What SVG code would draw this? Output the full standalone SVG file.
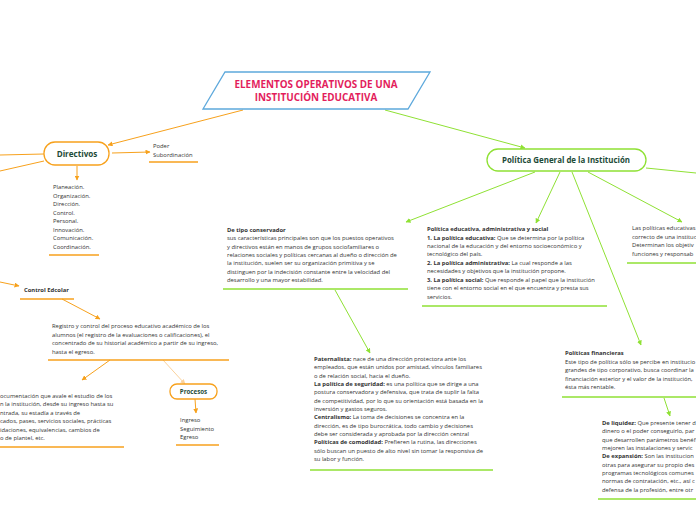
<svg xmlns="http://www.w3.org/2000/svg" width="696" height="520" viewBox="0 0 696 520">
<style>
.t{font-family:"Open Sans","Noto Sans",sans-serif;font-size:5.85px;fill:#333}
.b{font-weight:bold}
.node{fill:#fff;stroke-width:1.3}
.or{stroke:#f7a11c}
.gr{stroke:#8fe134}
.lbl{font-family:"Open Sans","Noto Sans",sans-serif;font-weight:bold;fill:#1d4b38;text-anchor:middle}
.co{fill:none;stroke-width:1}
.ul{fill:none;stroke-width:1.6}
</style>
<defs>
<marker id="ao" viewBox="0 0 10 10" refX="9" refY="5" markerWidth="5" markerHeight="5" orient="auto" markerUnits="userSpaceOnUse"><path d="M0,0L10,5L0,10z" fill="#f7a11c"/></marker>
<marker id="ag" viewBox="0 0 10 10" refX="9" refY="5" markerWidth="5" markerHeight="5" orient="auto" markerUnits="userSpaceOnUse"><path d="M0,0L10,5L0,10z" fill="#8fe134"/></marker>
<marker id="al" viewBox="0 0 10 10" refX="9" refY="5" markerWidth="5" markerHeight="5" orient="auto" markerUnits="userSpaceOnUse"><path d="M0,0L10,5L0,10z" fill="#fbd29c"/></marker>
</defs>
<rect width="696" height="520" fill="#fff"/>
<g id="connectors">
<line class="co or" x1="243" y1="110" x2="108" y2="145" marker-end="url(#ao)"/>
<line class="co gr" x1="385" y1="110" x2="525" y2="148" marker-end="url(#ag)"/>
<line class="co or" x1="44" y1="154" x2="0" y2="155"/>
<line class="co or" x1="44" y1="161" x2="0" y2="171"/>
<line class="co or" x1="112" y1="153" x2="150" y2="152" marker-end="url(#ao)"/>
<line class="co or" x1="77" y1="166" x2="77" y2="180" marker-end="url(#ao)"/>
<line class="co or" x1="0" y1="282" x2="19" y2="286" marker-end="url(#ao)"/>
<line class="co or" x1="62" y1="299" x2="100" y2="319" marker-end="url(#ao)"/>
<line class="co or" x1="110" y1="360" x2="82" y2="380" marker-end="url(#ao)"/>
<line class="co" stroke="#fbd29c" x1="163" y1="360" x2="185" y2="384" marker-end="url(#al)"/>
<line class="co or" x1="195" y1="399" x2="196" y2="413" marker-end="url(#ao)"/>
<line class="co gr" x1="646" y1="168" x2="696" y2="173"/>
<line class="co gr" x1="535" y1="172" x2="406" y2="222" marker-end="url(#ag)"/>
<line class="co gr" x1="560" y1="172" x2="536" y2="223" marker-end="url(#ag)"/>
<line class="co gr" x1="572" y1="172" x2="641" y2="345" marker-end="url(#ag)"/>
<line class="co gr" x1="588" y1="172" x2="682" y2="222" marker-end="url(#ag)"/>
<line class="co gr" x1="335" y1="290" x2="370" y2="353" marker-end="url(#ag)"/>
<line class="co gr" x1="664" y1="398" x2="670" y2="416" marker-end="url(#ag)"/>
</g>
<g id="title">
<polygon points="225,72 430,72 408,109 203,109" fill="#fff" stroke="#5ea9dc" stroke-width="1.3"/>
<text font-family="'Open Sans','Noto Sans',sans-serif" font-weight="bold" font-size="9.9" fill="#e31d5c" text-anchor="middle"><tspan x="316" y="87.5">ELEMENTOS OPERATIVOS DE UNA</tspan><tspan x="316" y="100.5">INSTITUCIÓN EDUCATIVA</tspan></text>
</g>
<g id="directivos">
<rect class="node or" x="44" y="142" width="65" height="23" rx="11"/>
<text class="lbl" x="77" y="157" font-size="8.1">Directivos</text>
</g>
<g id="poder">
<text class="t"><tspan x="153" y="148">Poder</tspan><tspan x="153" y="157">Subordinación</tspan></text>
<line class="ul or" x1="149" y1="162" x2="198" y2="162"/>
</g>
<g id="lista-directivos">
<text class="t"><tspan x="53" y="189">Planeación.</tspan><tspan x="53" y="197.5">Organización.</tspan><tspan x="53" y="206">Dirección.</tspan><tspan x="53" y="214.5">Control.</tspan><tspan x="53" y="223">Personal.</tspan><tspan x="53" y="231.5">Innovación.</tspan><tspan x="53" y="240">Comunicación.</tspan><tspan x="53" y="248.5">Coordinación.</tspan></text>
<line class="ul or" x1="49" y1="255" x2="99" y2="255"/>
</g>
<g id="control-escolar">
<text class="t b" x="24" y="292">Control Edcolar</text>
<line class="ul or" x1="20" y1="299" x2="74" y2="299"/>
</g>
<g id="registro">
<text class="t"><tspan x="52" y="328">Registro y control del proceso educativo académico de los</tspan><tspan x="52" y="336.5">alumnos (el registro de la evaluaciones o calificaciones), el</tspan><tspan x="52" y="345">concentrado de su historial académico a partir de su ingreso,</tspan><tspan x="52" y="353.5">hasta el egreso.</tspan></text>
<line class="ul or" x1="48" y1="360" x2="229" y2="360"/>
</g>
<g id="documentacion">
<text class="t"><tspan x="0" y="397.5">ocumentación que avale el estudio de los</tspan><tspan x="0" y="406">n la institución, desde su ingreso hasta su</tspan><tspan x="0" y="414.5">ntrada, su estadía a través de</tspan><tspan x="0" y="423">cados, pases, servicios sociales, prácticas</tspan><tspan x="0" y="431.5">idaciones, equivalencias, cambios de</tspan><tspan x="0" y="440">o de plantel, etc.</tspan></text>
<line class="ul or" x1="0" y1="447" x2="124" y2="447"/>
</g>
<g id="procesos">
<rect class="node or" x="170" y="384" width="47" height="15" rx="7"/>
<text class="lbl" x="193.5" y="394" font-size="6.2">Procesos</text>
</g>
<g id="lista-procesos">
<text class="t"><tspan x="180" y="422">Ingreso</tspan><tspan x="180" y="430.5">Seguimiento</tspan><tspan x="180" y="439">Egreso</tspan></text>
<line class="ul or" x1="176" y1="445" x2="219" y2="445"/>
</g>
<g id="politica-general">
<rect class="node gr" x="487" y="149" width="159" height="22" rx="11"/>
<text class="lbl" x="566" y="163" font-size="7.9">Política General de la Institución</text>
</g>
<g id="conservador">
<text class="t"><tspan class="b" x="227" y="232">De tipo conservador</tspan><tspan x="227" y="240.3">sus características principales son que los puestos operativos</tspan><tspan x="227" y="248.6">y directivos están en manos de grupos sociofamiliares o</tspan><tspan x="227" y="256.9">relaciones sociales y políticas cercanas al dueño o dirección de</tspan><tspan x="227" y="265.2">la institución, suelen ser su organización primitiva y se</tspan><tspan x="227" y="273.5">distinguen por la indecisión constante entre la velocidad del</tspan><tspan x="227" y="281.8">desarrollo y una mayor estabilidad.</tspan></text>
<line class="ul gr" x1="223" y1="289" x2="408" y2="289"/>
</g>
<g id="politica-educativa">
<text class="t"><tspan class="b" x="427" y="231">Política educativa, administrativa y social</tspan><tspan x="427" y="239.5"><tspan class="b">1. La política educativa:</tspan> Que se determina por la política</tspan><tspan x="427" y="247.8">nacional de la educación y del entorno socioeconómico y</tspan><tspan x="427" y="256">tecnológico del país.</tspan><tspan x="427" y="264.5"><tspan class="b">2. La política administrativa:</tspan> La cual responde a las</tspan><tspan x="427" y="272.8">necesidades y objetivos que la institución propone.</tspan><tspan x="427" y="281.5"><tspan class="b">3. La política social:</tspan> Que responde al papel que la institución</tspan><tspan x="427" y="290">tiene con el entorno social en el que encuentra y presta sus</tspan><tspan x="427" y="298.5">servicios.</tspan></text>
<line class="ul gr" x1="422" y1="306" x2="607" y2="306"/>
</g>
<g id="politicas-educativas">
<text class="t"><tspan x="632" y="230">Las políticas educativas</tspan><tspan x="632" y="238.5">correcto de una instituc</tspan><tspan x="632" y="247">Determinan los objetiv</tspan><tspan x="632" y="255.5">funciones  y responsab</tspan></text>
<line class="ul gr" x1="627" y1="263" x2="696" y2="263"/>
</g>
<g id="paternalista">
<text class="t"><tspan x="314" y="361"><tspan class="b">Paternalista:</tspan> nace de una dirección protectora ante los</tspan><tspan x="314" y="369.3">empleados, que están unidos por amistad, vínculos familiares</tspan><tspan x="314" y="377.6">o de relación social, hacia el dueño.</tspan><tspan x="314" y="386"><tspan class="b">La política de seguridad:</tspan> es una política que se dirige a una</tspan><tspan x="314" y="394.3">postura conservadora y defensiva, que trata de suplir la falta</tspan><tspan x="314" y="402.6">de competitividad, por lo que su orientación está basada en la</tspan><tspan x="314" y="411">inversión y gastos seguros.</tspan><tspan x="314" y="419.3"><tspan class="b">Centralismo:</tspan> La toma de decisiones se concentra en la</tspan><tspan x="314" y="427.6">dirección, es de tipo burocrática, todo cambio y decisiones</tspan><tspan x="314" y="436">debe ser considerada y aprobada por la dirección central</tspan><tspan x="314" y="444.3"><tspan class="b">Políticas de comodidad:</tspan> Prefieren la rutina, las direcciones</tspan><tspan x="314" y="452.6">sólo buscan un puesto de alto nivel sin tomar la responsiva de</tspan><tspan x="314" y="461">su labor y función.</tspan></text>
<line class="ul gr" x1="310" y1="470" x2="493" y2="470"/>
</g>
<g id="politicas-financieras">
<text class="t"><tspan class="b" x="565" y="355">Políticas financieras</tspan><tspan x="565" y="363.5">Este tipo de política sólo se percibe en institucio</tspan><tspan x="565" y="372">grandes de tipo corporativo, busca coordinar la</tspan><tspan x="565" y="380.5">financiación exterior y el valor de la institución,</tspan><tspan x="565" y="389">ésta más rentable.</tspan></text>
<line class="ul gr" x1="562" y1="397" x2="696" y2="397"/>
</g>
<g id="liquidez">
<text class="t"><tspan x="602" y="425"><tspan class="b">De liquidez:</tspan> Que presente tener d</tspan><tspan x="602" y="433.3">dinero o el poder conseguirlo, par</tspan><tspan x="602" y="441.6">que desarrollen parámetros benéf</tspan><tspan x="602" y="450">mejoren las instalaciones y servic</tspan><tspan x="602" y="458.3"><tspan class="b">De expansión:</tspan> Son las institucion</tspan><tspan x="602" y="466.6">otras para asegurar su propio des</tspan><tspan x="602" y="475">programas tecnológicos comunes</tspan><tspan x="602" y="483.3">normas de contratación, etc., así c</tspan><tspan x="602" y="491.6">defensa de la profesión, entre otr</tspan></text>
<line class="ul gr" x1="598" y1="499" x2="696" y2="499"/>
</g>
</svg>
